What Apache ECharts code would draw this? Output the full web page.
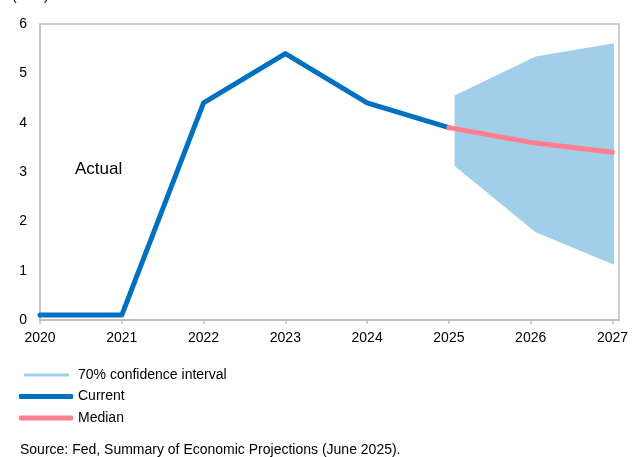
<!DOCTYPE html>
<html>
<head>
<meta charset="utf-8">
<script src="https://cdn.jsdelivr.net/npm/echarts@6/dist/echarts.min.js"></script>
<style>
  html, body { margin: 0; padding: 0; background: #fff; }
  #chart { width: 632px; height: 457px; }
</style>
</head>
<body>
<div id="chart"></div>
<script>
// Data
const years = [2020, 2021, 2022, 2023, 2024, 2025, 2026, 2027];
const currentYears = [2020, 2021, 2022, 2023, 2024, 2025];
const currentRate = [0.1, 0.1, 4.4, 5.4, 4.4, 3.9];
const medianYears = [2025, 2026, 2027];
const medianRate = [3.9, 3.6, 3.4];
const bandYears = [2025.07, 2026.06, 2027.02];
const bandLow = [3.12, 1.78, 1.12];
const bandHigh = [4.55, 5.34, 5.61];
const yTicks = [0, 1, 2, 3, 4, 5, 6];

const FONT = 'Liberation Sans, Arial, sans-serif';
const AXIS_GRAY = '#bfbfbf';
const BLUE = '#0070c0';
const PINK = '#ff7f8f';
const BAND = '#a1cfea';

// Initialize after page load
document.addEventListener('DOMContentLoaded', function() {
    initChart();
});

function pairs(xs, ys) {
    return xs.map((x, i) => [x, ys[i]]);
}

function initChart() {
    const chartDom = document.getElementById('chart');
    const myChart = echarts.init(chartDom, null, { renderer: 'canvas' });

    // band polygon: upper edge forward, lower edge backward
    const bandData = bandYears.map((x, i) => [x, bandLow[i], bandHigh[i]]);

    const option = {
        animation: false,
        textStyle: { fontFamily: FONT },
        grid: {
            left: 40,
            right: 13,
            top: 24,
            bottom: 137,
            show: true,
            borderColor: AXIS_GRAY,
            borderWidth: 1.5
        },
        legend: {
            orient: 'vertical',
            left: 19,
            top: 368,
            padding: 0,
            itemWidth: 54,
            itemHeight: 5,
            itemGap: 7.5,
            textStyle: { fontFamily: FONT, fontSize: 14, color: '#000' },
            data: [
                // thin light-blue sample; the bare moves keep the box at 54x5
                { name: '70% confidence interval', icon: 'path://M0,0M54,5M5,1L50,1L50,4L5,4Z' },
                { name: 'Current', icon: 'roundRect' },
                { name: 'Median', icon: 'roundRect' }
            ]
        },
        xAxis: {
            type: 'value',
            min: 2020,
            max: 2027.08,
            axisLine: { show: true, lineStyle: { color: AXIS_GRAY, width: 1.5 } },
            axisTick: {
                show: true,
                length: 4,
                customValues: years,
                lineStyle: { color: AXIS_GRAY, width: 1.5 }
            },
            axisLabel: {
                customValues: years,
                formatter: v => String(v),
                color: '#000',
                fontFamily: FONT,
                fontSize: 14,
                margin: 11
            },
            splitLine: { show: false }
        },
        yAxis: {
            type: 'value',
            min: 0,
            max: 6,
            interval: 1,
            axisLine: { show: true, lineStyle: { color: AXIS_GRAY, width: 1.5 } },
            axisTick: { show: false },
            axisLabel: {
                customValues: yTicks,
                color: '#000',
                fontFamily: FONT,
                fontSize: 14,
                margin: 13
            },
            splitLine: { show: false }
        },
        graphic: [
            {
                type: 'text',
                left: 12,
                top: -11,
                style: { text: '(in %)', font: '14px ' + FONT, fill: '#000' }
            },
            {
                type: 'text',
                left: 75,
                top: 161,
                style: { text: 'Actual', font: '17px ' + FONT, fill: '#000' }
            },
            {
                type: 'text',
                left: 20,
                top: 443,
                style: {
                    text: 'Source: Fed, Summary of Economic Projections (June 2025).',
                    font: '14px ' + FONT,
                    fill: '#000'
                }
            }
        ],
        series: [
            {
                name: 'band',
                type: 'custom',
                silent: true,
                z: 1,
                data: bandData,
                renderItem: function(params, api) {
                    if (params.dataIndex !== 0) return null;
                    const top = bandData.map(d => api.coord([d[0], d[2]]));
                    const bottom = bandData.map(d => api.coord([d[0], d[1]])).reverse();
                    return {
                        type: 'polygon',
                        shape: { points: top.concat(bottom) },
                        style: { fill: BAND }
                    };
                }
            },
            {
                name: '70% confidence interval',
                type: 'line',
                data: [],
                symbol: 'none',
                lineStyle: { color: BAND, width: 3 },
                itemStyle: { color: BAND }
            },
            {
                name: 'Current',
                type: 'line',
                z: 3,
                data: pairs(currentYears, currentRate),
                symbol: 'none',
                lineStyle: { color: BLUE, width: 5, cap: 'round', join: 'round' },
                itemStyle: { color: BLUE }
            },
            {
                name: 'Median',
                type: 'line',
                z: 4,
                data: pairs(medianYears, medianRate),
                symbol: 'none',
                lineStyle: { color: PINK, width: 5, cap: 'round', join: 'round' },
                itemStyle: { color: PINK }
            }
        ]
    };

    myChart.setOption(option);
}
</script>
</body>
</html>
